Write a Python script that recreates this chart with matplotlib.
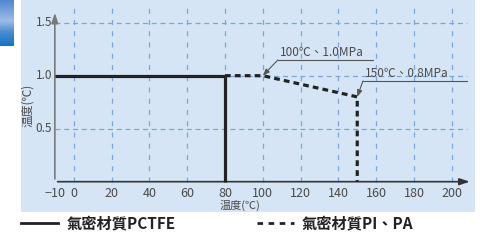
import numpy as np
import matplotlib.pyplot as plt
from matplotlib.lines import Line2D
from matplotlib.colors import LinearSegmentedColormap

plt.rcParams['font.family'] = ['Noto Sans CJK TC', 'DejaVu Sans']

# data
pctfe_x = [-10, 80, 80]
pctfe_y = [1.0, 1.0, 0.0]
pi_x = [80, 100, 150, 150]
pi_y = [1.0, 1.0, 0.8, 0.0]
x_ticks = [-10, 0, 20, 40, 60, 80, 100, 120, 140, 160, 180, 200]
y_ticks = [0.5, 1.0, 1.5]
notes = [("100℃、1.0MPa", 100, 1.0), ("150℃、0.8MPa", 150, 0.8)]
legend_labels = ["氣密材質PCTFE", "氣密材質PI、PA"]

W, H = 488, 243
fig = plt.figure(figsize=(W / 100, H / 100), dpi=100)
fig.patch.set_facecolor("white")

PANEL = "#d5e5f5"
GRID = "#79a6dc"
AXC = "#7a7a7a"
TXT = "#4a4a4a"

# blue tab at the left edge
tab = fig.add_axes([0, 1 - 46 / H, 14 / W, 46 / H])
cm = LinearSegmentedColormap.from_list(
    "tab", [(0, "#4f88cf"), (0.45, "#9dbde6"), (0.7, "#4a8bd0"), (1, "#1673c4")])
tab.imshow(np.linspace(0, 1, 100)[:, None], aspect="auto", cmap=cm, vmin=0, vmax=1)
tab.axis("off")

# main panel
ax = fig.add_axes([21 / W, 1 - 212 / H, (475 - 21) / W, 212 / H])
ax.set_facecolor(PANEL)
for s in ax.spines.values():
    s.set_visible(False)
ax.set_xticks([])
ax.set_yticks([])
ax.set_xlim(-27.9, 212.3)
ax.set_ylim(-0.286, 1.714)

# grid
for xv in x_ticks[1:]:
    ax.plot([xv, xv], [0, 1.64], color=GRID, lw=0.9, ls=(0, (4, 5)), zorder=1)
for yv in y_ticks:
    ax.plot([-10, 208], [yv, yv], color=GRID, lw=0.9, ls=(0, (4, 3)), zorder=1)

# axes with arrows
ax.annotate("", xy=(211, 0), xytext=(-10, 0),
            arrowprops=dict(arrowstyle="-|>,head_length=0.6,head_width=0.2", color="#333333", lw=1.2))
ax.annotate("", xy=(-10, 1.62), xytext=(-10, 0),
            arrowprops=dict(arrowstyle="-|>,head_length=0.6,head_width=0.2", color=AXC, lw=1.2))

# tick labels
for xv in x_ticks:
    lab = "−10" if xv < 0 else str(xv)
    ax.text(xv, -0.115, lab, ha="center", va="center", fontsize=9, color=TXT)
for yv in y_ticks:
    ax.text(-11.5, yv, f"{yv:.1f}", ha="right", va="center", fontsize=8.5, color=TXT)

ax.text(88, -0.225, "温度(℃)", ha="center", va="center", fontsize=8, color=TXT)
ax.text(-24.5, 0.72, "温度(℃)", ha="center", va="center", fontsize=8.5, color=TXT, rotation=90)

# series
ax.plot(pctfe_x, pctfe_y, color="#222222", lw=2.3, solid_capstyle="butt", zorder=3)
ax.plot(pi_x, pi_y, color="#222222", lw=2.3, ls=(0, (1.8, 1.3)), dash_capstyle="butt", zorder=3)

# callouts
offsets = [(8, 0.148, 158.5), (3, 0.15, 208)]
for (txt, nx, ny), (dx, dy, xend) in zip(notes, offsets):
    lx, ly = nx + dx, ny + dy
    ax.plot([lx, xend], [ly, ly], color="#555555", lw=0.8, zorder=4)
    ax.annotate("", xy=(nx, ny), xytext=(lx, ly),
                arrowprops=dict(arrowstyle="-|>,head_length=0.4,head_width=0.15", color="#555555", lw=0.8,
                                shrinkA=0, shrinkB=0), zorder=4)
    ax.text(lx + 1, ly + 0.01, txt, ha="left", va="bottom", fontsize=8.5, color=TXT)

# legend below the panel
leg = fig.add_axes([0, 0, 1, 1], facecolor="none")
leg.set_xlim(0, W)
leg.set_ylim(H, 0)
leg.axis("off")
leg.add_line(Line2D([21, 58], [223, 223], color="#222222", lw=2))
leg.text(67, 223, legend_labels[0], ha="left", va="center", fontsize=11, color="#222222", fontweight="bold")
leg.add_line(Line2D([257, 294], [223, 223], color="#222222", lw=2, ls=(0, (2, 2))))
leg.text(302, 223, legend_labels[1], ha="left", va="center", fontsize=11, color="#222222", fontweight="bold")

fig.savefig("out.png", dpi=100)
